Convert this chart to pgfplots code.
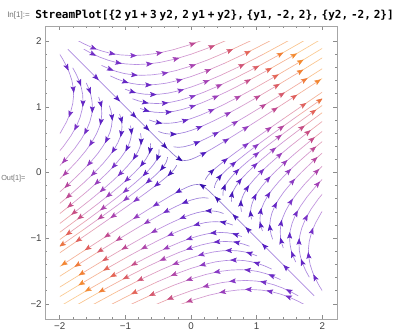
\documentclass[border=0pt]{standalone}
\usepackage{pgfplots}
\pgfplotsset{compat=1.18}
\usetikzlibrary{arrows.meta}
\usepackage{fontspec}
\setmainfont{Liberation Sans}
\newfontfamily\codefont{DejaVu Sans Mono}
\pgfplotsset{
  speedcolor/.style={point meta={sqrt((2*\thisrow{x}+3*\thisrow{y})^2+(2*\thisrow{x}+\thisrow{y})^2)}},
  sl/.style={mesh, speedcolor, line width=0.5pt, opacity=0.55, forget plot},
  ar/.style={speedcolor, quiver={u=\thisrow{u},v=\thisrow{v},scale arrows=0.08,colored=mapped color},
     -{Stealth[length=5pt,width=3.8pt,inset=1pt]}, line width=0.4pt, forget plot},
}
\newcommand\sps{\hspace{0.25em}}
\begin{document}
\begin{tikzpicture}
\path[use as bounding box] (-33.75pt,-12pt) rectangle (267.75pt,239.25pt);
\node[anchor=west, font=\fontsize{6}{7}\selectfont, text=black!55, inner sep=0] at (-28.5pt,228pt) {In[1]:=};
\node[anchor=west, font=\codefont\bfseries\fontsize{8.3}{10}\selectfont, inner sep=0] at (-7.5pt,228pt) {StreamPlot[\{2\sps y1\sps+\sps3\sps y2,\sps2\sps y1\sps+\sps y2\},\sps\{y1,\sps-2,\sps2\},\sps\{y2,\sps-2,\sps2\}]};
\node[anchor=west, font=\fontsize{5.5}{6.5}\selectfont, text=black!55, inner sep=0] at (-33pt,105pt) {Out[1]=};
\begin{axis}[xshift=11.07pt, yshift=11.33pt, anchor=south west, scale only axis, width=196.85pt, height=197.09pt,
  hide axis, xmin=-2, xmax=2, ymin=-2, ymax=2, clip=true,
  point meta min=0, point meta max=11.7,
  colormap={speed}{rgb255(0cm)=(45,10,165); rgb255(1.5cm)=(85,30,195); rgb255(3.5cm)=(130,55,200); rgb255(5cm)=(165,65,180); rgb255(6.5cm)=(195,75,140); rgb255(8cm)=(228,100,85); rgb255(9.3cm)=(242,130,50); rgb255(10.5cm)=(246,155,50); rgb255(11.7cm)=(248,180,90)}]
% ---- region 1
\addplot[sl] table[row sep=\\]{x y\\ -1.899 2.114\\ -1.771 2.034\\ -1.642 1.964\\ -1.509 1.903\\ -1.372 1.853\\ -1.227 1.814\\ -1.073 1.790\\ -0.903 1.780\\ -0.718 1.788\\ -0.509 1.815\\ -0.273 1.868\\ 0.000 1.950\\ 0.316 2.065\\};
\addplot[sl] table[row sep=\\]{x y\\ -1.634 1.877\\ -1.516 1.813\\ -1.393 1.757\\ -1.266 1.710\\ -1.132 1.674\\ -0.990 1.652\\ -0.833 1.643\\ -0.662 1.651\\ -0.470 1.676\\ -0.252 1.724\\ 0.000 1.800\\ 0.292 1.906\\ 0.634 2.052\\};
\addplot[sl] table[row sep=\\]{x y\\ -1.364 1.631\\ -1.254 1.581\\ -1.140 1.539\\ -1.019 1.507\\ -0.891 1.487\\ -0.750 1.479\\ -0.596 1.486\\ -0.423 1.508\\ -0.227 1.552\\ 0.000 1.620\\ 0.262 1.716\\ 0.570 1.847\\ 0.935 2.017\\};
\addplot[sl] table[row sep=\\]{x y\\ -1.229 1.470\\ -1.130 1.425\\ -1.027 1.387\\ -0.918 1.358\\ -0.803 1.340\\ -0.676 1.333\\ -0.537 1.339\\ -0.381 1.359\\ -0.204 1.399\\ 0.000 1.460\\ 0.237 1.546\\ 0.514 1.664\\ 0.842 1.818\\ 1.232 2.018\\};
\addplot[sl] table[row sep=\\]{x y\\ -1.006 1.269\\ -0.915 1.235\\ -0.818 1.209\\ -0.715 1.193\\ -0.602 1.187\\ -0.478 1.192\\ -0.339 1.210\\ -0.182 1.245\\ 0.000 1.300\\ 0.211 1.377\\ 0.458 1.482\\ 0.750 1.619\\ 1.097 1.797\\ 1.513 2.022\\};
\addplot[sl] table[row sep=\\]{x y\\ -0.890 1.122\\ -0.809 1.093\\ -0.723 1.070\\ -0.632 1.056\\ -0.532 1.050\\ -0.423 1.054\\ -0.300 1.071\\ -0.161 1.102\\ 0.000 1.150\\ 0.186 1.218\\ 0.405 1.311\\ 0.664 1.432\\ 0.971 1.589\\ 1.339 1.788\\ 1.780 2.039\\};
\addplot[sl] table[row sep=\\]{x y\\ -0.774 0.976\\ -0.704 0.950\\ -0.629 0.930\\ -0.550 0.918\\ -0.463 0.913\\ -0.368 0.917\\ -0.261 0.931\\ -0.140 0.958\\ 0.000 1.000\\ 0.162 1.059\\ 0.352 1.140\\ 0.577 1.245\\ 0.844 1.382\\ 1.164 1.555\\ 1.548 1.773\\ 2.010 2.045\\};
\addplot[sl] table[row sep=\\]{x y\\ -0.635 0.800\\ -0.577 0.779\\ -0.516 0.763\\ -0.451 0.753\\ -0.380 0.749\\ -0.302 0.752\\ -0.214 0.763\\ -0.115 0.786\\ 0.000 0.820\\ 0.133 0.868\\ 0.289 0.935\\ 0.473 1.021\\ 0.692 1.133\\ 0.954 1.275\\ 1.269 1.454\\ 1.648 1.677\\ 2.107 1.954\\};
\addplot[sl] table[row sep=\\]{x y\\ -0.495 0.625\\ -0.451 0.608\\ -0.403 0.595\\ -0.352 0.588\\ -0.296 0.584\\ -0.236 0.587\\ -0.167 0.596\\ -0.090 0.613\\ 0.000 0.640\\ 0.104 0.678\\ 0.225 0.730\\ 0.369 0.797\\ 0.540 0.884\\ 0.745 0.995\\ 0.991 1.135\\ 1.286 1.309\\ 1.645 1.525\\ 2.078 1.793\\};
\addplot[sl] table[row sep=\\]{x y\\ -0.264 0.391\\ -0.194 0.383\\ -0.110 0.391\\ 0.000 0.420\\ 0.068 0.445\\ 0.148 0.479\\ 0.242 0.523\\ 0.354 0.580\\ 0.489 0.653\\ 0.650 0.745\\ 0.844 0.859\\ 1.079 1.001\\ 1.364 1.177\\ 1.709 1.394\\ 2.129 1.662\\};
\addplot[sl] table[row sep=\\]{x y\\ -1.877 1.877\\ -1.462 1.462\\ -1.138 1.139\\ -0.887 0.887\\ -0.690 0.691\\ -0.538 0.538\\ -0.418 0.419\\ -0.324 0.328\\ -0.277 0.283\\ -0.234 0.247\\ -0.195 0.217\\ -0.155 0.195\\ -0.126 0.186\\ -0.093 0.183\\ -0.052 0.186\\ 0.000 0.200\\ 0.070 0.228\\ 0.169 0.276\\ 0.310 0.355\\ 0.514 0.477\\ 0.814 0.664\\ 1.014 0.791\\ 1.257 0.948\\ 1.553 1.140\\ 1.914 1.375\\ 2.354 1.664\\};
% ---- region 3
\addplot[sl] table[row sep=\\]{x y\\ 1.899 -2.114\\ 1.771 -2.034\\ 1.642 -1.964\\ 1.509 -1.903\\ 1.372 -1.853\\ 1.227 -1.814\\ 1.073 -1.790\\ 0.903 -1.780\\ 0.718 -1.788\\ 0.509 -1.815\\ 0.273 -1.868\\ 0.000 -1.950\\ -0.316 -2.065\\};
\addplot[sl] table[row sep=\\]{x y\\ 1.634 -1.877\\ 1.516 -1.813\\ 1.393 -1.757\\ 1.266 -1.710\\ 1.132 -1.674\\ 0.990 -1.652\\ 0.833 -1.643\\ 0.662 -1.651\\ 0.470 -1.676\\ 0.252 -1.724\\ 0.000 -1.800\\ -0.292 -1.906\\ -0.634 -2.052\\};
\addplot[sl] table[row sep=\\]{x y\\ 1.364 -1.631\\ 1.254 -1.581\\ 1.140 -1.539\\ 1.019 -1.507\\ 0.891 -1.487\\ 0.750 -1.479\\ 0.596 -1.486\\ 0.423 -1.508\\ 0.227 -1.552\\ 0.000 -1.620\\ -0.262 -1.716\\ -0.570 -1.847\\ -0.935 -2.017\\};
\addplot[sl] table[row sep=\\]{x y\\ 1.229 -1.470\\ 1.130 -1.425\\ 1.027 -1.387\\ 0.918 -1.358\\ 0.803 -1.340\\ 0.676 -1.333\\ 0.537 -1.339\\ 0.381 -1.359\\ 0.204 -1.399\\ 0.000 -1.460\\ -0.237 -1.546\\ -0.514 -1.664\\ -0.842 -1.818\\ -1.232 -2.018\\};
\addplot[sl] table[row sep=\\]{x y\\ 1.006 -1.269\\ 0.915 -1.235\\ 0.818 -1.209\\ 0.715 -1.193\\ 0.602 -1.187\\ 0.478 -1.192\\ 0.339 -1.210\\ 0.182 -1.245\\ 0.000 -1.300\\ -0.211 -1.377\\ -0.458 -1.482\\ -0.750 -1.619\\ -1.097 -1.797\\ -1.513 -2.022\\};
\addplot[sl] table[row sep=\\]{x y\\ 0.890 -1.122\\ 0.809 -1.093\\ 0.723 -1.070\\ 0.632 -1.056\\ 0.532 -1.050\\ 0.423 -1.054\\ 0.300 -1.071\\ 0.161 -1.102\\ 0.000 -1.150\\ -0.186 -1.218\\ -0.405 -1.311\\ -0.664 -1.432\\ -0.971 -1.589\\ -1.339 -1.788\\ -1.780 -2.039\\};
\addplot[sl] table[row sep=\\]{x y\\ 0.774 -0.976\\ 0.704 -0.950\\ 0.629 -0.930\\ 0.550 -0.918\\ 0.463 -0.913\\ 0.368 -0.917\\ 0.261 -0.931\\ 0.140 -0.958\\ 0.000 -1.000\\ -0.162 -1.059\\ -0.352 -1.140\\ -0.577 -1.245\\ -0.844 -1.382\\ -1.164 -1.555\\ -1.548 -1.773\\ -2.010 -2.045\\};
\addplot[sl] table[row sep=\\]{x y\\ 0.635 -0.800\\ 0.577 -0.779\\ 0.516 -0.763\\ 0.451 -0.753\\ 0.380 -0.749\\ 0.302 -0.752\\ 0.214 -0.763\\ 0.115 -0.786\\ 0.000 -0.820\\ -0.133 -0.868\\ -0.289 -0.935\\ -0.473 -1.021\\ -0.692 -1.133\\ -0.954 -1.275\\ -1.269 -1.454\\ -1.648 -1.677\\ -2.107 -1.954\\};
\addplot[sl] table[row sep=\\]{x y\\ 0.495 -0.625\\ 0.451 -0.608\\ 0.403 -0.595\\ 0.352 -0.588\\ 0.296 -0.584\\ 0.236 -0.587\\ 0.167 -0.596\\ 0.090 -0.613\\ 0.000 -0.640\\ -0.104 -0.678\\ -0.225 -0.730\\ -0.369 -0.797\\ -0.540 -0.884\\ -0.745 -0.995\\ -0.991 -1.135\\ -1.286 -1.309\\ -1.645 -1.525\\ -2.078 -1.793\\};
\addplot[sl] table[row sep=\\]{x y\\ 0.264 -0.391\\ 0.194 -0.383\\ 0.110 -0.391\\ 0.000 -0.420\\ -0.068 -0.445\\ -0.148 -0.479\\ -0.242 -0.523\\ -0.354 -0.580\\ -0.489 -0.653\\ -0.650 -0.745\\ -0.844 -0.859\\ -1.079 -1.001\\ -1.364 -1.177\\ -1.709 -1.394\\ -2.129 -1.662\\};
\addplot[sl] table[row sep=\\]{x y\\ 1.877 -1.877\\ 1.462 -1.462\\ 1.138 -1.139\\ 0.887 -0.887\\ 0.690 -0.691\\ 0.538 -0.538\\ 0.418 -0.419\\ 0.324 -0.328\\ 0.277 -0.283\\ 0.234 -0.247\\ 0.195 -0.217\\ 0.155 -0.195\\ 0.126 -0.186\\ 0.093 -0.183\\ 0.052 -0.186\\ 0.000 -0.200\\ -0.070 -0.228\\ -0.169 -0.276\\ -0.310 -0.355\\ -0.514 -0.477\\ -0.814 -0.664\\ -1.014 -0.791\\ -1.257 -0.948\\ -1.553 -1.140\\ -1.914 -1.375\\ -2.354 -1.664\\};
% ---- region 2
\addplot[sl] table[row sep=\\]{x y\\ -2.027 1.841\\ -1.958 1.732\\ -1.900 1.623\\ -1.852 1.514\\ -1.816 1.403\\ -1.795 1.290\\ -1.789 1.173\\ -1.802 1.049\\ -1.836 0.916\\ -1.896 0.772\\ -1.985 0.613\\ -2.111 0.435\\};
\addplot[sl] table[row sep=\\]{x y\\ -1.802 1.593\\ -1.748 1.493\\ -1.704 1.392\\ -1.671 1.291\\ -1.651 1.187\\ -1.646 1.079\\ -1.658 0.965\\ -1.689 0.843\\ -1.744 0.710\\ -1.826 0.564\\ -1.942 0.400\\ -2.097 0.214\\};
\addplot[sl] table[row sep=\\]{x y\\ -1.596 1.363\\ -1.555 1.271\\ -1.526 1.179\\ -1.508 1.084\\ -1.503 0.985\\ -1.513 0.881\\ -1.542 0.770\\ -1.592 0.648\\ -1.667 0.515\\ -1.773 0.365\\ -1.915 0.195\\ -2.100 0.000\\};
\addplot[sl] table[row sep=\\]{x y\\ -1.407 1.150\\ -1.380 1.066\\ -1.364 0.980\\ -1.360 0.891\\ -1.369 0.797\\ -1.395 0.696\\ -1.441 0.587\\ -1.509 0.466\\ -1.604 0.330\\ -1.732 0.177\\ -1.900 0.000\\ -2.115 -0.205\\};
\addplot[sl] table[row sep=\\]{x y\\ -1.244 1.017\\ -1.221 0.943\\ -1.206 0.867\\ -1.202 0.788\\ -1.211 0.705\\ -1.234 0.616\\ -1.274 0.519\\ -1.334 0.412\\ -1.418 0.292\\ -1.532 0.156\\ -1.680 0.000\\ -1.870 -0.182\\ -2.112 -0.394\\};
\addplot[sl] table[row sep=\\]{x y\\ -1.089 0.890\\ -1.068 0.825\\ -1.055 0.759\\ -1.052 0.689\\ -1.059 0.617\\ -1.079 0.539\\ -1.115 0.454\\ -1.167 0.360\\ -1.241 0.256\\ -1.340 0.137\\ -1.470 0.000\\ -1.637 -0.159\\ -1.848 -0.345\\ -2.113 -0.565\\};
\addplot[sl] table[row sep=\\]{x y\\ -0.923 0.713\\ -0.912 0.655\\ -0.909 0.596\\ -0.915 0.533\\ -0.933 0.465\\ -0.963 0.392\\ -1.008 0.311\\ -1.072 0.221\\ -1.158 0.118\\ -1.270 0.000\\ -1.414 -0.137\\ -1.596 -0.298\\ -1.826 -0.488\\ -2.112 -0.715\\};
\addplot[sl] table[row sep=\\]{x y\\ -0.770 0.595\\ -0.761 0.547\\ -0.759 0.497\\ -0.764 0.445\\ -0.778 0.388\\ -0.804 0.327\\ -0.842 0.260\\ -0.895 0.184\\ -0.967 0.099\\ -1.060 0.000\\ -1.180 -0.115\\ -1.332 -0.249\\ -1.524 -0.408\\ -1.763 -0.596\\ -2.059 -0.822\\};
\addplot[sl] table[row sep=\\]{x y\\ -0.617 0.444\\ -0.615 0.403\\ -0.620 0.361\\ -0.632 0.315\\ -0.652 0.266\\ -0.683 0.211\\ -0.726 0.150\\ -0.784 0.080\\ -0.860 0.000\\ -0.957 -0.093\\ -1.081 -0.202\\ -1.236 -0.331\\ -1.430 -0.484\\ -1.671 -0.667\\ -1.968 -0.887\\ -2.335 -1.153\\};
\addplot[sl] table[row sep=\\]{x y\\ -0.488 0.351\\ -0.487 0.319\\ -0.490 0.285\\ -0.499 0.249\\ -0.516 0.210\\ -0.540 0.167\\ -0.574 0.118\\ -0.620 0.063\\ -0.680 0.000\\ -0.757 -0.074\\ -0.855 -0.160\\ -0.978 -0.262\\ -1.131 -0.383\\ -1.321 -0.528\\ -1.556 -0.702\\ -1.846 -0.911\\ -2.203 -1.165\\};
\addplot[sl] table[row sep=\\]{x y\\ -0.358 0.235\\ -0.360 0.210\\ -0.379 0.154\\ -0.422 0.087\\ -0.500 0.000\\ -0.557 -0.054\\ -0.629 -0.117\\ -0.719 -0.192\\ -0.831 -0.281\\ -0.971 -0.388\\ -1.144 -0.516\\ -1.358 -0.670\\ -1.620 -0.857\\ -1.942 -1.082\\ -2.338 -1.357\\};
\addplot[sl] table[row sep=\\]{x y\\ -0.220 0.110\\ -0.227 0.093\\ -0.253 0.052\\ -0.300 0.000\\ -0.377 -0.070\\ -0.499 -0.169\\ -0.687 -0.310\\ -0.815 -0.402\\ -0.972 -0.514\\ -1.165 -0.649\\ -1.403 -0.814\\ -1.694 -1.014\\ -2.050 -1.257\\};
% ---- region 4
\addplot[sl] table[row sep=\\]{x y\\ 2.027 -1.841\\ 1.958 -1.732\\ 1.900 -1.623\\ 1.852 -1.514\\ 1.816 -1.403\\ 1.795 -1.290\\ 1.789 -1.173\\ 1.802 -1.049\\ 1.836 -0.916\\ 1.896 -0.772\\ 1.985 -0.613\\ 2.111 -0.435\\};
\addplot[sl] table[row sep=\\]{x y\\ 1.802 -1.593\\ 1.748 -1.493\\ 1.704 -1.392\\ 1.671 -1.291\\ 1.651 -1.187\\ 1.646 -1.079\\ 1.658 -0.965\\ 1.689 -0.843\\ 1.744 -0.710\\ 1.826 -0.564\\ 1.942 -0.400\\ 2.097 -0.214\\};
\addplot[sl] table[row sep=\\]{x y\\ 1.596 -1.363\\ 1.555 -1.271\\ 1.526 -1.179\\ 1.508 -1.084\\ 1.503 -0.985\\ 1.513 -0.881\\ 1.542 -0.770\\ 1.592 -0.648\\ 1.667 -0.515\\ 1.773 -0.365\\ 1.915 -0.195\\ 2.100 0.000\\};
\addplot[sl] table[row sep=\\]{x y\\ 1.407 -1.150\\ 1.380 -1.066\\ 1.364 -0.980\\ 1.360 -0.891\\ 1.369 -0.797\\ 1.395 -0.696\\ 1.441 -0.587\\ 1.509 -0.466\\ 1.604 -0.330\\ 1.732 -0.177\\ 1.900 0.000\\ 2.115 0.205\\};
\addplot[sl] table[row sep=\\]{x y\\ 1.244 -1.017\\ 1.221 -0.943\\ 1.206 -0.867\\ 1.202 -0.788\\ 1.211 -0.705\\ 1.234 -0.616\\ 1.274 -0.519\\ 1.334 -0.412\\ 1.418 -0.292\\ 1.532 -0.156\\ 1.680 0.000\\ 1.870 0.182\\ 2.112 0.394\\};
\addplot[sl] table[row sep=\\]{x y\\ 1.089 -0.890\\ 1.068 -0.825\\ 1.055 -0.759\\ 1.052 -0.689\\ 1.059 -0.617\\ 1.079 -0.539\\ 1.115 -0.454\\ 1.167 -0.360\\ 1.241 -0.256\\ 1.340 -0.137\\ 1.470 0.000\\ 1.637 0.159\\ 1.848 0.345\\ 2.113 0.565\\};
\addplot[sl] table[row sep=\\]{x y\\ 0.923 -0.713\\ 0.912 -0.655\\ 0.909 -0.596\\ 0.915 -0.533\\ 0.933 -0.465\\ 0.963 -0.392\\ 1.008 -0.311\\ 1.072 -0.221\\ 1.158 -0.118\\ 1.270 0.000\\ 1.414 0.137\\ 1.596 0.298\\ 1.826 0.488\\ 2.112 0.715\\};
\addplot[sl] table[row sep=\\]{x y\\ 0.770 -0.595\\ 0.761 -0.547\\ 0.759 -0.497\\ 0.764 -0.445\\ 0.778 -0.388\\ 0.804 -0.327\\ 0.842 -0.260\\ 0.895 -0.184\\ 0.967 -0.099\\ 1.060 0.000\\ 1.180 0.115\\ 1.332 0.249\\ 1.524 0.408\\ 1.763 0.596\\ 2.059 0.822\\};
\addplot[sl] table[row sep=\\]{x y\\ 0.617 -0.444\\ 0.615 -0.403\\ 0.620 -0.361\\ 0.632 -0.315\\ 0.652 -0.266\\ 0.683 -0.211\\ 0.726 -0.150\\ 0.784 -0.080\\ 0.860 0.000\\ 0.957 0.093\\ 1.081 0.202\\ 1.236 0.331\\ 1.430 0.484\\ 1.671 0.667\\ 1.968 0.887\\ 2.335 1.153\\};
\addplot[sl] table[row sep=\\]{x y\\ 0.488 -0.351\\ 0.487 -0.319\\ 0.490 -0.285\\ 0.499 -0.249\\ 0.516 -0.210\\ 0.540 -0.167\\ 0.574 -0.118\\ 0.620 -0.063\\ 0.680 0.000\\ 0.757 0.074\\ 0.855 0.160\\ 0.978 0.262\\ 1.131 0.383\\ 1.321 0.528\\ 1.556 0.702\\ 1.846 0.911\\ 2.203 1.165\\};
\addplot[sl] table[row sep=\\]{x y\\ 0.358 -0.235\\ 0.360 -0.210\\ 0.379 -0.154\\ 0.422 -0.087\\ 0.500 0.000\\ 0.557 0.054\\ 0.629 0.117\\ 0.719 0.192\\ 0.831 0.281\\ 0.971 0.388\\ 1.144 0.516\\ 1.358 0.670\\ 1.620 0.857\\ 1.942 1.082\\ 2.338 1.357\\};
\addplot[sl] table[row sep=\\]{x y\\ 0.220 -0.110\\ 0.227 -0.093\\ 0.253 -0.052\\ 0.300 0.000\\ 0.377 0.070\\ 0.499 0.169\\ 0.687 0.310\\ 0.815 0.402\\ 0.972 0.514\\ 1.165 0.649\\ 1.403 0.814\\ 1.694 1.014\\ 2.050 1.257\\};
% ---- arrows region 1
\addplot[ar] table[row sep=\\]{x y u v\\
-1.509 1.903 0.924 -0.383\\ -1.227 1.814 0.978 -0.209\\ -0.903 1.780 1.000 -0.008\\ -0.509 1.815 0.984 0.177\\ 0.000 1.950 0.949 0.316\\
-1.516 1.813 0.892 -0.451\\ -1.132 1.674 0.978 -0.209\\ -0.662 1.651 0.996 0.090\\ -0.252 1.724 0.967 0.253\\ 0.292 1.906 0.930 0.367\\
-1.254 1.581 0.924 -0.383\\ -0.891 1.487 0.994 -0.109\\ -0.423 1.508 0.984 0.177\\ 0.000 1.620 0.949 0.316\\ 0.570 1.847 0.913 0.408\\
-1.027 1.387 0.953 -0.302\\ -0.676 1.333 1.000 -0.008\\ -0.204 1.399 0.967 0.253\\ 0.237 1.546 0.930 0.367\\ 0.842 1.818 0.898 0.441\\
-0.915 1.235 0.953 -0.302\\ -0.602 1.187 1.000 -0.008\\ -0.182 1.245 0.967 0.253\\ 0.211 1.377 0.930 0.367\\ 0.750 1.619 0.898 0.441\\
-0.723 1.070 0.978 -0.209\\ -0.423 1.054 0.996 0.090\\ 0.000 1.150 0.949 0.316\\ 0.405 1.311 0.913 0.408\\ 0.971 1.589 0.885 0.466\\ 1.339 1.788 0.874 0.485\\
-0.704 0.950 0.953 -0.302\\ -0.368 0.917 0.996 0.090\\ 0.000 1.000 0.949 0.316\\ 0.352 1.140 0.913 0.408\\ 0.844 1.382 0.885 0.466\\ 1.164 1.555 0.874 0.485\\ 1.548 1.773 0.866 0.501\\
-0.516 0.763 0.978 -0.209\\ -0.115 0.786 0.967 0.253\\ 0.289 0.935 0.913 0.408\\ 0.692 1.133 0.885 0.466\\ 1.269 1.454 0.866 0.501\\ 1.648 1.677 0.859 0.513\\
-0.296 0.584 1.000 -0.008\\ 0.104 0.678 0.930 0.367\\ 0.540 0.884 0.885 0.466\\ 0.991 1.135 0.866 0.501\\ 1.286 1.309 0.859 0.513\\ 1.645 1.525 0.853 0.522\\
0.068 0.445 0.930 0.367\\ 0.354 0.580 0.885 0.466\\ 0.650 0.745 0.866 0.501\\ 1.079 1.001 0.853 0.522\\ 1.364 1.177 0.849 0.529\\ 1.709 1.394 0.845 0.535\\
-1.462 1.462 0.707 -0.707\\ -1.138 1.139 0.707 -0.707\\ -0.887 0.887 0.707 -0.707\\ -0.690 0.691 0.707 -0.707\\ -0.418 0.419 0.712 -0.703\\ -0.195 0.217 0.834 -0.551\\ 0.169 0.276 0.885 0.466\\ 0.514 0.477 0.853 0.522\\ 0.814 0.664 0.845 0.535\\ 1.257 0.948 0.840 0.543\\ 1.553 1.140 0.838 0.546\\ 1.914 1.375 0.836 0.549\\
};
% ---- arrows region 3
\addplot[ar] table[row sep=\\]{x y u v\\
1.509 -1.903 -0.924 0.383\\ 1.227 -1.814 -0.978 0.209\\ 0.903 -1.780 -1.000 0.008\\ 0.509 -1.815 -0.984 -0.177\\ 0.000 -1.950 -0.949 -0.316\\
1.516 -1.813 -0.892 0.451\\ 1.132 -1.674 -0.978 0.209\\ 0.662 -1.651 -0.996 -0.090\\ 0.252 -1.724 -0.967 -0.253\\ -0.292 -1.906 -0.930 -0.367\\
1.254 -1.581 -0.924 0.383\\ 0.891 -1.487 -0.994 0.109\\ 0.423 -1.508 -0.984 -0.177\\ 0.000 -1.620 -0.949 -0.316\\ -0.570 -1.847 -0.913 -0.408\\
1.027 -1.387 -0.953 0.302\\ 0.676 -1.333 -1.000 0.008\\ 0.204 -1.399 -0.967 -0.253\\ -0.237 -1.546 -0.930 -0.367\\ -0.842 -1.818 -0.898 -0.441\\
0.915 -1.235 -0.953 0.302\\ 0.602 -1.187 -1.000 0.008\\ 0.182 -1.245 -0.967 -0.253\\ -0.211 -1.377 -0.930 -0.367\\ -0.750 -1.619 -0.898 -0.441\\
0.723 -1.070 -0.978 0.209\\ 0.423 -1.054 -0.996 -0.090\\ 0.000 -1.150 -0.949 -0.316\\ -0.405 -1.311 -0.913 -0.408\\ -0.971 -1.589 -0.885 -0.466\\ -1.339 -1.788 -0.874 -0.485\\
0.704 -0.950 -0.953 0.302\\ 0.368 -0.917 -0.996 -0.090\\ 0.000 -1.000 -0.949 -0.316\\ -0.352 -1.140 -0.913 -0.408\\ -0.844 -1.382 -0.885 -0.466\\ -1.164 -1.555 -0.874 -0.485\\ -1.548 -1.773 -0.866 -0.501\\
0.516 -0.763 -0.978 0.209\\ 0.115 -0.786 -0.967 -0.253\\ -0.289 -0.935 -0.913 -0.408\\ -0.692 -1.133 -0.885 -0.466\\ -1.269 -1.454 -0.866 -0.501\\ -1.648 -1.677 -0.859 -0.513\\
0.296 -0.584 -1.000 0.008\\ -0.104 -0.678 -0.930 -0.367\\ -0.540 -0.884 -0.885 -0.466\\ -0.991 -1.135 -0.866 -0.501\\ -1.286 -1.309 -0.859 -0.513\\ -1.645 -1.525 -0.853 -0.522\\
-0.068 -0.445 -0.930 -0.367\\ -0.354 -0.580 -0.885 -0.466\\ -0.650 -0.745 -0.866 -0.501\\ -1.079 -1.001 -0.853 -0.522\\ -1.364 -1.177 -0.849 -0.529\\ -1.709 -1.394 -0.845 -0.535\\
1.462 -1.462 -0.707 0.707\\ 1.138 -1.139 -0.707 0.707\\ 0.887 -0.887 -0.707 0.707\\ 0.690 -0.691 -0.707 0.707\\ 0.418 -0.419 -0.712 0.703\\ 0.195 -0.217 -0.834 0.551\\ -0.169 -0.276 -0.885 -0.466\\ -0.514 -0.477 -0.853 -0.522\\ -0.814 -0.664 -0.845 -0.535\\ -1.257 -0.948 -0.840 -0.543\\ -1.553 -1.140 -0.838 -0.546\\ -1.914 -1.375 -0.836 -0.549\\
};
% ---- arrows region 2
\addplot[ar] table[row sep=\\]{x y u v\\
-1.900 1.623 0.441 -0.898\\ -1.795 1.290 0.121 -0.993\\ -1.836 0.916 -0.318 -0.948\\
-1.704 1.392 0.357 -0.934\\ -1.646 1.079 -0.025 -1.000\\ -1.744 0.710 -0.439 -0.898\\
-1.555 1.271 0.357 -0.934\\ -1.503 0.985 -0.025 -1.000\\ -1.592 0.648 -0.439 -0.898\\ -1.915 0.195 -0.666 -0.746\\
-1.380 1.066 0.250 -0.968\\ -1.369 0.797 -0.176 -0.984\\ -1.509 0.466 -0.536 -0.844\\ -1.900 0.000 -0.707 -0.707\\
-1.206 0.867 0.121 -0.993\\ -1.274 0.519 -0.439 -0.898\\ -1.532 0.156 -0.666 -0.746\\ -1.870 -0.182 -0.738 -0.675\\
-1.068 0.825 0.250 -0.968\\ -1.059 0.617 -0.176 -0.984\\ -1.167 0.360 -0.536 -0.844\\ -1.470 0.000 -0.707 -0.707\\ -1.848 -0.345 -0.760 -0.649\\
-0.912 0.655 0.121 -0.993\\ -0.963 0.392 -0.439 -0.898\\ -1.158 0.118 -0.666 -0.746\\ -1.414 -0.137 -0.738 -0.675\\ -1.826 -0.488 -0.777 -0.629\\
-0.759 0.497 -0.025 -1.000\\ -0.842 0.260 -0.536 -0.844\\ -1.060 0.000 -0.707 -0.707\\ -1.332 -0.249 -0.760 -0.649\\ -1.763 -0.596 -0.790 -0.613\\
-0.620 0.361 -0.176 -0.984\\ -0.726 0.150 -0.610 -0.792\\ -0.957 -0.093 -0.738 -0.675\\ -1.236 -0.331 -0.777 -0.629\\ -1.671 -0.667 -0.800 -0.600\\
-0.499 0.249 -0.318 -0.948\\ -0.680 0.000 -0.707 -0.707\\ -0.978 -0.262 -0.777 -0.629\\ -1.321 -0.528 -0.800 -0.600\\ -1.846 -0.911 -0.812 -0.583\\
-0.422 0.087 -0.610 -0.792\\ -0.629 -0.117 -0.760 -0.649\\ -0.971 -0.388 -0.800 -0.600\\ -1.358 -0.670 -0.812 -0.583\\ -1.942 -1.082 -0.820 -0.572\\
-0.300 0.000 -0.707 -0.707\\ -0.499 -0.169 -0.790 -0.613\\ -0.815 -0.402 -0.812 -0.583\\ -1.165 -0.649 -0.820 -0.572\\ -1.694 -1.014 -0.825 -0.565\\
};
% ---- arrows region 4
\addplot[ar] table[row sep=\\]{x y u v\\
1.900 -1.623 -0.441 0.898\\ 1.795 -1.290 -0.121 0.993\\ 1.836 -0.916 0.318 0.948\\
1.704 -1.392 -0.357 0.934\\ 1.646 -1.079 0.025 1.000\\ 1.744 -0.710 0.439 0.898\\
1.555 -1.271 -0.357 0.934\\ 1.503 -0.985 0.025 1.000\\ 1.592 -0.648 0.439 0.898\\ 1.915 -0.195 0.666 0.746\\
1.380 -1.066 -0.250 0.968\\ 1.369 -0.797 0.176 0.984\\ 1.509 -0.466 0.536 0.844\\ 1.900 0.000 0.707 0.707\\
1.206 -0.867 -0.121 0.993\\ 1.274 -0.519 0.439 0.898\\ 1.532 -0.156 0.666 0.746\\ 1.870 0.182 0.738 0.675\\
1.068 -0.825 -0.250 0.968\\ 1.059 -0.617 0.176 0.984\\ 1.167 -0.360 0.536 0.844\\ 1.470 0.000 0.707 0.707\\ 1.848 0.345 0.760 0.649\\
0.912 -0.655 -0.121 0.993\\ 0.963 -0.392 0.439 0.898\\ 1.158 -0.118 0.666 0.746\\ 1.414 0.137 0.738 0.675\\ 1.826 0.488 0.777 0.629\\
0.759 -0.497 0.025 1.000\\ 0.842 -0.260 0.536 0.844\\ 1.060 0.000 0.707 0.707\\ 1.332 0.249 0.760 0.649\\ 1.763 0.596 0.790 0.613\\
0.620 -0.361 0.176 0.984\\ 0.726 -0.150 0.610 0.792\\ 0.957 0.093 0.738 0.675\\ 1.236 0.331 0.777 0.629\\ 1.671 0.667 0.800 0.600\\
0.499 -0.249 0.318 0.948\\ 0.680 0.000 0.707 0.707\\ 0.978 0.262 0.777 0.629\\ 1.321 0.528 0.800 0.600\\ 1.846 0.911 0.812 0.583\\
0.422 -0.087 0.610 0.792\\ 0.629 0.117 0.760 0.649\\ 0.971 0.388 0.800 0.600\\ 1.358 0.670 0.812 0.583\\ 1.942 1.082 0.820 0.572\\
0.300 0.000 0.707 0.707\\ 0.499 0.169 0.790 0.613\\ 0.815 0.402 0.812 0.583\\ 1.165 0.649 0.820 0.572\\ 1.694 1.014 0.825 0.565\\
};
\end{axis}
\begin{axis}[anchor=south west, scale only axis, width=219pt, height=219.75pt,
  xmin=-2.225, xmax=2.225, ymin=-2.23, ymax=2.23,
  xtick={-2,-1,0,1,2}, ytick={-2,-1,0,1,2},
  xticklabels={−2,−1,0,1,2}, yticklabels={−2,−1,0,1,2},
  minor x tick num=4, minor y tick num=4,
  tick align=inside, major tick length=3pt, minor tick length=1.6pt,
  axis line style={draw=black!35, line width=0.5pt},
  every tick/.style={black!45, line width=0.45pt},
  ticklabel style={font=\fontsize{7.3}{8}\selectfont, text=black!75},
  xticklabel style={yshift=1pt}, yticklabel style={xshift=1pt}]
\end{axis}
\end{tikzpicture}
\end{document}
